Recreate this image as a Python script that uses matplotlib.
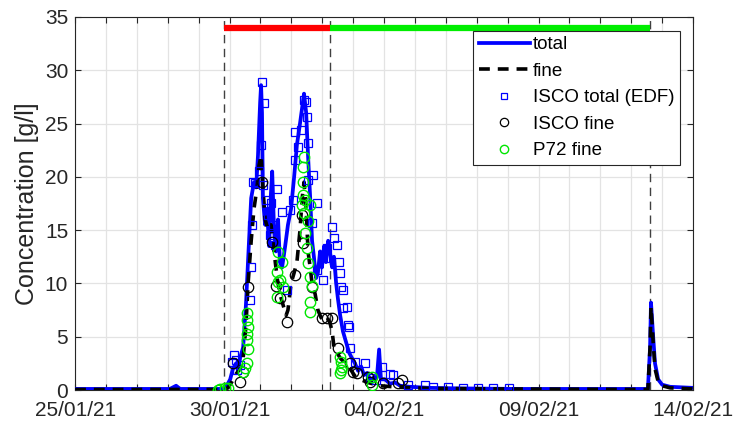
import matplotlib
matplotlib.use("Agg")
import matplotlib.pyplot as plt
import matplotlib.dates as mdates
from matplotlib.ticker import FuncFormatter, MultipleLocator
import pandas as pd

plt.rcParams['font.family'] = ['Liberation Sans', 'DejaVu Sans']

START = pd.Timestamp("2021-01-25")

# Continuous records: time in days since 25/01/21 00:00, concentration in g/l
total_t = [0.00, 3.07, 3.27, 3.40, 4.76, 4.89, 5.02, 5.11, 5.21, 5.27, 5.34, 5.44, 5.53,
           5.63, 5.70, 5.79, 5.86, 5.92, 5.99, 6.02, 6.05, 6.08, 6.15, 6.21, 6.28, 6.34,
           6.38, 6.44, 6.50, 6.57, 6.63, 6.70, 6.80, 6.89, 6.99, 7.09, 7.18, 7.28, 7.35,
           7.41, 7.48, 7.54, 7.61, 7.67, 7.73, 7.80, 7.86, 7.93, 7.99, 8.06, 8.12, 8.19,
           8.25, 8.32, 8.38, 8.45, 8.51, 8.58, 8.67, 8.77, 8.87, 8.96, 9.06, 9.16, 9.26,
           9.35, 9.45, 9.55, 9.68, 9.77, 9.84, 9.90, 10.03, 10.19, 10.36, 10.52, 10.84,
           11.49, 12.46, 14.40, 16.99, 18.54, 18.61, 18.64, 18.71, 18.77, 18.87, 19.00,
           19.26, 20.00]
total_c = [0.1, 0.1, 0.4, 0.1, 0.1, 0.3, 1.0, 2.0, 2.5, 1.8, 3.0, 4.0, 8.0,
           14.0, 18.0, 19.5, 19.0, 22.0, 27.0, 28.6, 26.0, 18.0, 15.5, 17.0, 13.5, 18.5,
           20.5, 15.0, 13.0, 16.0, 12.0, 11.5, 13.5, 15.5, 17.0, 20.0, 23.0, 25.0, 26.5,
           27.8, 26.0, 22.0, 18.0, 14.0, 12.5, 10.5, 11.0, 13.0, 11.5, 13.5, 12.0, 14.0,
           13.0, 11.5, 12.5, 10.0, 8.5, 7.0, 5.5, 4.5, 3.5, 3.0, 2.5, 1.8, 2.2,
           1.4, 1.6, 1.0, 1.0, 1.2, 3.8, 1.0, 1.0, 0.6, 0.7, 0.4, 0.3,
           0.2, 0.15, 0.1, 0.1, 0.1, 4.0, 8.2, 5.0, 2.5, 1.0, 0.5,
           0.3, 0.2]

fine_t = [0.00, 4.76, 4.95, 5.08, 5.21, 5.34, 5.44, 5.53, 5.60, 5.70, 5.79, 5.89, 5.95,
          6.02, 6.08, 6.15, 6.25, 6.34, 6.44, 6.54, 6.63, 6.73, 6.83, 6.89, 6.99, 7.09,
          7.18, 7.28, 7.35, 7.41, 7.48, 7.54, 7.61, 7.67, 7.77, 7.86, 7.96, 8.06, 8.16,
          8.25, 8.32, 8.38, 8.48, 8.58, 8.74, 8.90, 9.06, 9.22, 9.48, 9.87, 10.52, 11.49,
          13.75, 18.54, 18.61, 18.64, 18.71, 18.77, 18.87, 19.00, 19.26, 20.00]
fine_c = [0.05, 0.05, 0.2, 0.8, 1.5, 2.0, 3.0, 6.0, 10.0, 14.0, 17.0, 19.0, 21.0,
          22.0, 19.0, 16.0, 15.0, 15.5, 13.0, 10.5, 9.0, 8.0, 7.0, 7.5, 10.0, 11.0,
          12.0, 15.0, 18.0, 19.5, 17.0, 13.0, 11.5, 10.0, 9.0, 7.5, 6.8, 6.5, 6.8,
          6.3, 5.5, 4.0, 3.5, 3.0, 2.5, 2.0, 1.3, 1.0, 0.7, 0.4, 0.25, 0.15,
          0.1, 0.05, 4.0, 7.8, 4.5, 2.0, 0.8, 0.4, 0.2, 0.1]

# Bottle samples
isco_total_t = [5.08, 5.15, 5.24, 5.34, 5.21, 5.73, 5.76, 5.83, 5.95, 6.02, 6.05, 6.12,
                5.70, 5.66, 6.08, 6.18, 6.34, 6.54, 6.25, 6.41, 6.31, 6.47, 6.70, 6.86,
                6.96, 7.06, 7.12, 7.12, 7.22, 7.31, 7.41, 7.48, 7.51, 7.54, 7.70, 7.54,
                7.67, 7.83, 7.83, 8.03, 8.09, 8.16, 8.32, 8.38, 8.48, 8.54, 8.58, 8.61,
                8.67, 8.67, 8.80, 8.83, 8.87, 8.90, 9.06, 9.39, 9.55, 9.74, 9.94, 10.19,
                10.29, 10.78, 11.33, 11.59, 12.07, 12.56, 13.04, 13.53, 14.05]
isco_total_c = [2.6, 3.3, 1.9, 2.3, 2.8, 15.5, 19.5, 19.4, 20.5, 23.0, 28.9, 26.9,
                11.5, 8.4, 19.2, 17.8, 17.5, 18.9, 16.4, 15.5, 14.5, 13.6, 16.7, 9.4,
                16.9, 17.8, 21.6, 24.2, 22.8, 24.4, 27.2, 27.0, 25.6, 23.2, 20.2, 19.7,
                15.7, 17.5, 11.3, 10.3, 12.4, 13.3, 15.3, 14.3, 13.6, 12.0, 11.0, 9.7,
                9.4, 7.7, 7.8, 6.1, 5.9, 3.9, 2.6, 2.5, 1.1, 0.9, 2.2, 1.5,
                1.4, 0.5, 0.5, 0.3, 0.3, 0.2, 0.2, 0.2, 0.2]

isco_fine_t = [5.11, 5.34, 5.44, 5.60, 6.05, 6.38, 6.50, 6.63, 6.86, 7.12, 7.35, 7.38,
               7.67, 7.99, 8.16, 8.32, 8.51, 8.90, 9.00, 9.13, 9.48, 9.55, 9.97, 10.45,
               10.58]
isco_fine_c = [2.5, 0.75, 1.7, 9.7, 19.5, 13.9, 9.8, 8.6, 6.4, 10.8, 16.4, 13.8,
               9.7, 6.8, 6.8, 6.8, 3.9, 2.5, 1.7, 1.6, 1.2, 0.75, 0.65, 0.65,
               0.9]

p72_fine_t = [4.63, 4.69, 4.85, 4.95, 5.44, 5.50, 5.57, 5.60, 5.57, 5.57, 5.60, 5.57,
              5.57, 6.57, 6.70, 6.54, 6.57, 6.73, 6.54, 6.63, 7.41, 7.38, 7.38, 7.38,
              7.44, 7.35, 7.61, 7.41, 7.54, 7.44, 7.51, 7.54, 7.61, 7.67, 7.61, 7.61,
              8.58, 8.61, 8.64, 8.58, 8.61, 9.61, 9.61]
p72_fine_c = [0.0, 0.1, 0.2, 0.2, 1.7, 2.1, 2.5, 3.8, 4.7, 5.3, 5.9, 6.6,
              7.2, 12.9, 12.0, 11.1, 10.1, 9.7, 8.7, 10.3, 21.9, 20.9, 19.5, 18.3,
              17.8, 17.4, 17.4, 16.6, 15.9, 14.7, 13.3, 11.9, 10.6, 9.8, 8.3, 7.3,
              3.1, 2.6, 2.2, 1.6, 1.9, 1.2, 0.5]

# Event markers (days since start) and flood phases
event_t = [4.82, 8.25, 18.61]
phase_level = 34
rising_phase = [4.82, 8.25]
falling_phase = [8.25, 18.61]


def to_dates(days):
    return START + pd.to_timedelta(days, unit="D")


fig = plt.figure(figsize=(7.36, 4.23), dpi=100)
ax = fig.add_axes([0.102, 0.078, 0.8396, 0.882])

for t in event_t:
    ax.axvline(to_dates([t])[0], color="#404040", lw=1.0, dashes=(6, 4), zorder=2)

ax.plot(to_dates(rising_phase), [phase_level] * 2, color="#ff0000", lw=4.5,
        solid_capstyle="butt", zorder=3)
ax.plot(to_dates(falling_phase), [phase_level] * 2, color="#00ee00", lw=4.5,
        solid_capstyle="butt", zorder=3)

ax.plot(to_dates(total_t), total_c, color="#0000ff", lw=2.7, label="total", zorder=4)
ax.plot(to_dates(fine_t), fine_c, color="black", lw=2.6, dashes=(3, 2.2),
        label="fine", zorder=5)
ax.plot(to_dates(isco_total_t), isco_total_c, ls="none", marker="s", ms=6.0,
        mfc="none", mec="#0000ff", mew=0.9, label="ISCO total (EDF)", zorder=6)
ax.plot(to_dates(isco_fine_t), isco_fine_c, ls="none", marker="o", ms=7.5,
        mfc="none", mec="black", mew=0.9, label="ISCO fine", zorder=6)
ax.plot(to_dates(p72_fine_t), p72_fine_c, ls="none", marker="o", ms=7.5,
        mfc="none", mec="#00e600", mew=1.0, label="P72 fine", zorder=6)

ax.set_xlim(to_dates([0.0])[0], to_dates([20.0])[0])
ax.set_ylim(0, 35)

ax.xaxis.set_major_locator(mdates.DayLocator())


def date_label(x, pos):
    d = mdates.num2date(x).replace(tzinfo=None)
    if (pd.Timestamp(d).normalize() - START).days % 5 == 0:
        return d.strftime("%d/%m/%y")
    return ""


ax.xaxis.set_major_formatter(FuncFormatter(date_label))
ax.yaxis.set_major_locator(MultipleLocator(5))

ax.grid(True, color="#e3e3e3", lw=0.9)
ax.set_axisbelow(True)
ax.tick_params(direction="in", top=True, right=True, length=4, width=0.8,
               labelsize=15, colors="#262626")
ax.tick_params(axis="x", pad=8)
ax.tick_params(axis="y", pad=5)
for s in ax.spines.values():
    s.set_color("#262626")
    s.set_linewidth(0.8)

ax.set_ylabel("Concentration [g/l]", fontsize=18, color="#262626", labelpad=4)

leg = ax.legend(loc="upper right", bbox_to_anchor=(0.979, 0.963), fontsize=13.5,
                handlelength=2.75, handletextpad=0.15, labelspacing=0.5,
                borderpad=0.3, borderaxespad=0.0, fancybox=False, framealpha=1,
                edgecolor="#262626", markerscale=0.8)
leg.get_frame().set_linewidth(0.8)
leg.set_zorder(10)

fig.savefig("out.png", dpi=100)
